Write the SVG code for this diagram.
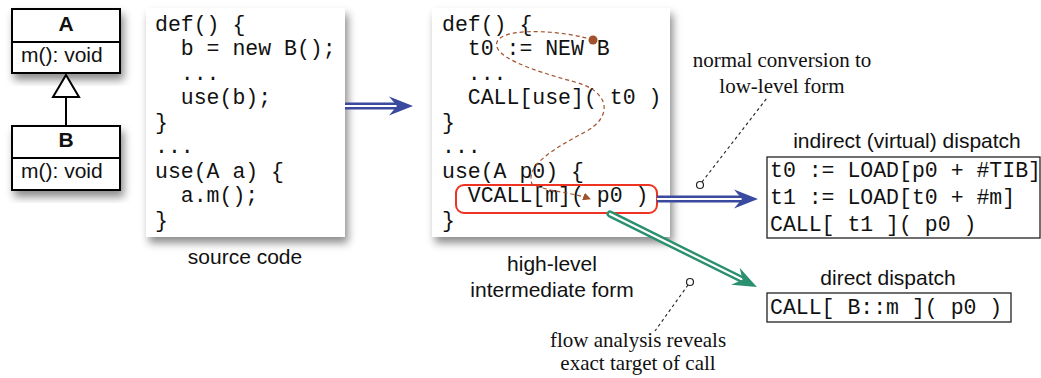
<svg xmlns="http://www.w3.org/2000/svg" width="1041" height="378" viewBox="0 0 1041 378">
<style>
.code{font-family:"Liberation Mono","Courier New",monospace;font-size:21.5px;fill:#111;white-space:pre}
.sans{font-family:"Liberation Sans",Arial,sans-serif;font-size:21px;fill:#111}
.serif{font-family:"Liberation Serif","Times New Roman",serif;font-size:21px;fill:#111}
.box{fill:#fff;stroke:none}
.uml{fill:#fff;stroke:#000;stroke-width:2}
.lbox{fill:#fff;stroke:#222;stroke-width:1.3}
.lead{stroke:#222;stroke-width:1.1;stroke-dasharray:3,3;fill:none}
</style>
<defs>
<filter id="sh" x="-20%" y="-20%" width="140%" height="140%">
<feDropShadow dx="3" dy="6" stdDeviation="4" flood-color="#000" flood-opacity="0.45"/>
</filter>
<path id="head" d="M0,0 L-24,-9.5 L-16,0 L-24,9.5 Z"/>
<marker id="brown" markerWidth="8" markerHeight="8" refX="7" refY="4" orient="auto" markerUnits="userSpaceOnUse">
<path d="M0,0 L8,4 L0,8 Z" fill="#a0522d"/>
</marker>
</defs>

<g id="classA">
<rect class="uml" x="12" y="9" width="108" height="64" filter="url(#sh)"/>
<line x1="12" y1="42" x2="120" y2="42" stroke="#000" stroke-width="2"/>
<text class="sans" x="66" y="31" text-anchor="middle" font-weight="bold">A</text>
<text class="sans" x="21" y="62">m(): void</text>
</g>
<g id="classB">
<rect class="uml" x="12" y="126" width="108" height="64" filter="url(#sh)"/>
<line x1="12" y1="158" x2="120" y2="158" stroke="#000" stroke-width="2"/>
<text class="sans" x="66" y="147" text-anchor="middle" font-weight="bold">B</text>
<text class="sans" x="21" y="178">m(): void</text>
</g>

<g id="source">
<rect class="box" x="146" y="8" width="199" height="229" filter="url(#sh)"/>
<text class="code" x="155" y="30.5">def() {</text>
<text class="code" x="155" y="55">  b = new B();</text>
<text class="code" x="155" y="79.5">  ...</text>
<text class="code" x="155" y="104">  use(b);</text>
<text class="code" x="155" y="128.5">}</text>
<text class="code" x="155" y="153">...</text>
<text class="code" x="155" y="177.5">use(A a) {</text>
<text class="code" x="155" y="202">  a.m();</text>
<text class="code" x="155" y="226.5">}</text>
<text class="sans" x="245" y="264" text-anchor="middle">source code</text>
</g>

<g id="hir">
<rect class="box" x="432" y="8" width="238" height="229" filter="url(#sh)"/>
<text class="code" x="442" y="30.5">def() {</text>
<text class="code" x="442" y="55">  t0 := NEW B</text>
<text class="code" x="442" y="79.5">  ...</text>
<text class="code" x="442" y="104">  CALL[use]( t0 )</text>
<text class="code" x="442" y="128.5">}</text>
<text class="code" x="442" y="153">...</text>
<text class="code" x="442" y="177.5">use(A p0) {</text>
<text class="code" x="442" y="202">  VCALL[m]( p0 )</text>
<text class="code" x="442" y="226.5">}</text>
<rect x="456" y="185" width="201" height="28" rx="8" fill="none" stroke="#ee3322" stroke-width="2"/>
<text class="sans" x="552" y="271" text-anchor="middle">high-level</text>
<text class="sans" x="552" y="297" text-anchor="middle">intermediate form</text>
</g>

<g id="indirect">
<text class="sans" x="907" y="148" text-anchor="middle">indirect (virtual) dispatch</text>
<rect class="lbox" x="767" y="157" width="273" height="81"/>
<text class="code" x="770" y="177">t0 := LOAD[p0 + #TIB]</text>
<text class="code" x="770" y="204">t1 := LOAD[t0 + #m]</text>
<text class="code" x="770" y="231">CALL[ t1 ]( p0 )</text>
</g>

<g id="direct">
<text class="sans" x="888" y="285" text-anchor="middle">direct dispatch</text>
<rect class="lbox" x="767" y="293" width="244" height="29"/>
<text class="code" x="770" y="314">CALL[ B::m ]( p0 )</text>
</g>

<g id="note-normal">
<text class="serif" x="782" y="67" text-anchor="middle">normal conversion to</text>
<text class="serif" x="782" y="93" text-anchor="middle">low-level form</text>
</g>
<g id="note-flow">
<text class="serif" x="638" y="347" text-anchor="middle">flow analysis reveals</text>
<text class="serif" x="638" y="370" text-anchor="middle">exact target of call</text>
</g>

<g id="connectors">
<path d="M66,97 L66,126" stroke="#000" stroke-width="2"/>
<path d="M66,75 L79,97 L53,97 Z" fill="#fff" stroke="#000" stroke-width="2"/>

<line x1="345" y1="106" x2="398" y2="106" stroke="#3a4a9e" stroke-width="7"/>
<line x1="345" y1="106" x2="400" y2="106" stroke="#fff" stroke-width="2.2"/>
<use href="#head" transform="translate(413,106)" fill="#3a4a9e"/>

<line x1="657" y1="199" x2="743" y2="199" stroke="#3a4a9e" stroke-width="7"/>
<line x1="657" y1="199" x2="745" y2="199" stroke="#fff" stroke-width="2.2"/>
<use href="#head" transform="translate(758,199)" fill="#3a4a9e"/>

<g transform="translate(610,214) rotate(26.4)">
<line x1="0" y1="0" x2="150" y2="0" stroke="#2a9070" stroke-width="7" stroke-linecap="round"/>
<line x1="0" y1="0" x2="152" y2="0" stroke="#fff" stroke-width="2.2" stroke-linecap="round"/>
<use href="#head" transform="translate(164,0)" fill="#2a9070"/>
</g>

<path d="M593,40 C570,32 510,26 498,40 C488,55 530,70 575,82 C612,92 612,118 585,132 C555,148 525,165 532,184 C548,192 572,192 590,199" fill="none" stroke="#a0522d" stroke-width="1.2" stroke-dasharray="4,3" marker-end="url(#brown)"/>
<circle cx="593" cy="40" r="4.5" fill="#a0522d"/>

<line class="lead" x1="702" y1="182" x2="767" y2="98"/>
<circle cx="700" cy="185" r="3.5" fill="#fff" stroke="#222" stroke-width="1.2"/>
<line class="lead" x1="688" y1="285" x2="655" y2="331"/>
<circle cx="690" cy="282" r="3.5" fill="#fff" stroke="#222" stroke-width="1.2"/>
</g>
</svg>
